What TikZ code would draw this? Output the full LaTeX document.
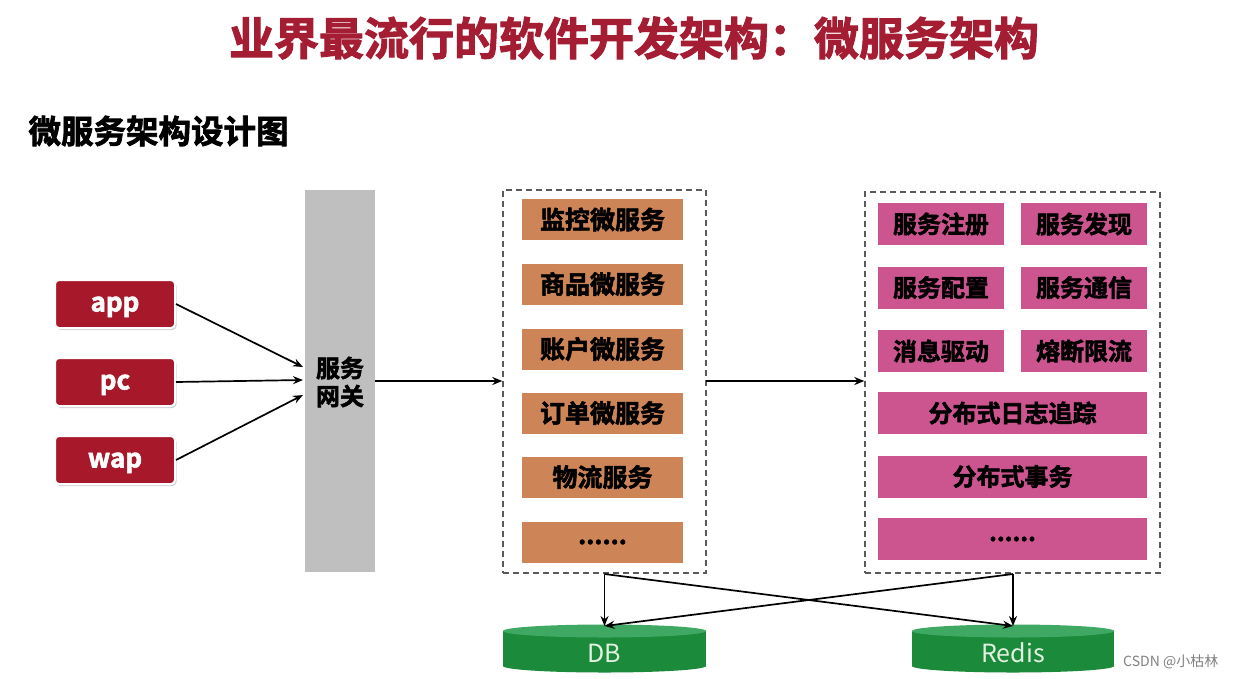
\documentclass[tikz,border=0pt]{standalone}
\usepackage{fontspec}
\setmainfont{Noto Sans CJK SC}[BoldFont={* Bold}, BoldFeatures={FakeBold=2.2}]
\usetikzlibrary{arrows.meta,shadows}
\definecolor{titlered}{HTML}{A51D33}
\definecolor{cred}{HTML}{A8182B}
\definecolor{gwgray}{HTML}{BFBFBF}
\definecolor{svcorange}{HTML}{CD8457}
\definecolor{infrapink}{HTML}{CC5590}
\definecolor{dbgreen}{HTML}{1B8A3A}
\definecolor{dbtop}{HTML}{3FA862}
\definecolor{dbtext}{HTML}{E2F2E2}
\definecolor{dashgray}{HTML}{5A5A5A}
\tikzset{
  client/.style={rounded corners=4pt, fill=cred, draw=white, line width=2pt,
    drop shadow={shadow xshift=1.5pt, shadow yshift=-2pt, fill=black!35},
    minimum width=120pt, minimum height=48pt, inner sep=0pt, text depth=0pt,
    text=white, font=\bfseries\fontsize{26}{30}\selectfont},
  svc/.style={fill=svcorange, minimum width=161pt, minimum height=41pt, inner sep=0pt,
    font=\bfseries\fontsize{25}{28}\selectfont},
  infra/.style={fill=infrapink, minimum width=126pt, minimum height=42pt, inner sep=0pt,
    font=\bfseries\fontsize{24}{28}\selectfont},
  infrawide/.style={infra, minimum width=269pt},
  group/.style={draw=dashgray, dashed, dash pattern=on 6pt off 4pt, line width=1.4pt, inner sep=0pt},
  arr/.style={-{Stealth[length=10pt,width=8pt]}, line width=1.7pt, black},
  dbtextstyle/.style={text=dbtext, font=\fontsize{25}{28}\selectfont, text depth=0pt},
}
\begin{document}
\begin{tikzpicture}[x=1pt,y=-1pt]
\useasboundingbox[fill=white] (0,0) rectangle (1238,678);
% titles
\node[text=titlered, font=\bfseries\fontsize{45}{50}\selectfont] (title) at (634,38) {业界最流行的软件开发架构：微服务架构};
\node[anchor=west, font=\bfseries\fontsize{32.5}{36}\selectfont] (sub) at (25,131) {微服务架构设计图};
% clients
\node[client] (app) at (115,304) {app};
\node[client] (pc) at (115,382) {pc};
\node[client] (wap) at (115,460) {wap};
% gateway
\node[fill=gwgray, minimum width=70pt, minimum height=382pt, inner sep=0pt] (gw) at (340,381) {};
\node[font=\bfseries\fontsize{24}{28}\selectfont, align=center] (gwtext) at (340,382) {服务\\网关};
\coordinate (gwin1) at (303,367);
\coordinate (gwin2) at (303,380);
\coordinate (gwin3) at (303,395);
\draw[arr] (app.east) -- (gwin1);
\draw[arr] (pc.east) -- (gwin2);
\draw[arr] (wap.east) -- (gwin3);
% service group
\node[group, minimum width=203pt, minimum height=383pt] (g1) at (604.5,381.5) {};
\node[svc] (s1) at (602.5,219.5) {监控微服务};
\node[svc] (s2) at (602.5,284) {商品微服务};
\node[svc] (s3) at (602.5,349) {账户微服务};
\node[svc] (s4) at (602.5,413) {订单微服务};
\node[svc] (s5) at (602.5,477) {物流服务};
\node[svc] (s6) at (602.5,542) {......};
\coordinate (gwout) at (375,381);
\draw[arr] (gwout) -- (g1.west |- gwout);
% infra group
\node[group, minimum width=295pt, minimum height=381pt] (g2) at (1012.5,382.5) {};
\node[infra] (i1) at (941,224) {服务注册};
\node[infra] (i2) at (1084,224) {服务发现};
\node[infra] (i3) at (941,287.5) {服务配置};
\node[infra] (i4) at (1084,287.5) {服务通信};
\node[infra] (i5) at (941,351) {消息驱动};
\node[infra] (i6) at (1084,351) {熔断限流};
\node[infrawide] (i7) at (1012.5,413) {分布式日志追踪};
\node[infrawide] (i8) at (1012.5,476.5) {分布式事务};
\node[infrawide] (i9) at (1012.5,539) {......};
\coordinate (g1out) at (706,381);
\draw[arr] (g1out) -- (g2.west |- g1out);
% databases
\fill[dbgreen] (503,631) rectangle (706,666);
\fill[dbgreen] (604.5,666) ellipse [x radius=101.5pt, y radius=6.5pt];
\fill[dbtop] (604.5,631) ellipse [x radius=101.5pt, y radius=6.5pt];
\fill[dbgreen] (912,631) rectangle (1114,666);
\fill[dbgreen] (1013,666) ellipse [x radius=101pt, y radius=6.5pt];
\fill[dbtop] (1013,631) ellipse [x radius=101pt, y radius=6.5pt];
\node[dbtextstyle] (db) at (604.5,653) {DB};
\node[dbtextstyle] (redis) at (1013,653) {Redis};
\coordinate (dbin) at (604.5,626);
\coordinate (redisin) at (1013,626);
\coordinate (g1b) at (604.5,574);
\coordinate (g2b) at (1013,574);
\draw[arr] (g1b) -- (dbin);
\draw[arr] (g1b) -- (redisin);
\draw[arr] (g2b) -- (redisin);
\draw[arr] (g2b) -- (dbin);
% watermark
\node[anchor=west, inner sep=0pt, text=black!50, font=\fontsize{14}{16}\selectfont] (wm) at (1123,662) {CSDN @小枯林};
\end{tikzpicture}
\end{document}
